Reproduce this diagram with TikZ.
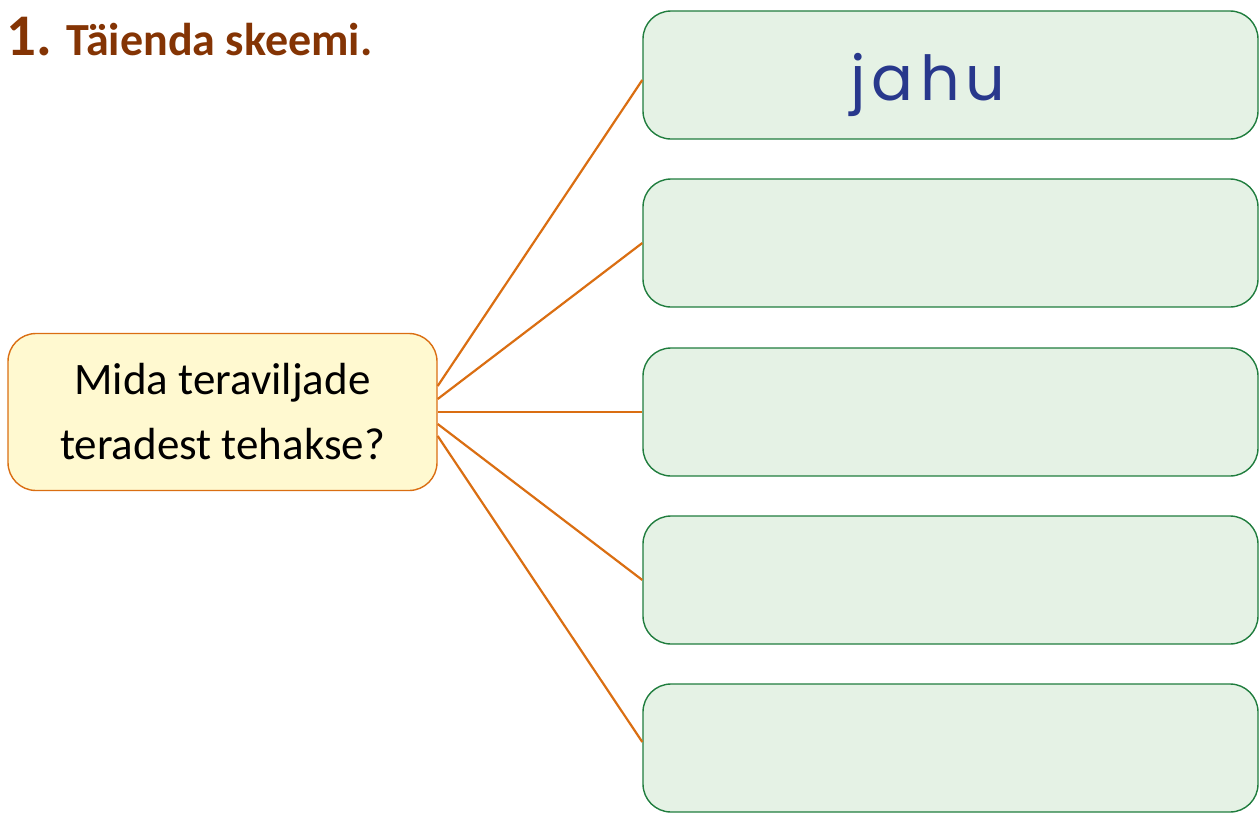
\documentclass[tikz,border=0pt]{standalone}
\usepackage{fontspec}
\setmainfont{Carlito}
\newfontfamily\handfont{Poppins}[LetterSpace=10]
\usetikzlibrary{calc}
\definecolor{titlebrown}{RGB}{132,52,4}
\definecolor{lineorange}{RGB}{218,110,18}
\definecolor{qfill}{RGB}{255,249,208}
\definecolor{gfill}{RGB}{229,242,229}
\definecolor{gborder}{RGB}{32,125,62}
\definecolor{handblue}{RGB}{40,56,140}
\tikzset{
  answerbox/.style={draw=gborder, fill=gfill, line width=1.4pt, rounded corners=28pt,
    minimum width=615pt, minimum height=128pt, inner sep=0pt},
  questionbox/.style={draw=lineorange, fill=qfill, line width=1.4pt, rounded corners=28pt,
    minimum width=429pt, minimum height=157pt, align=center, inner sep=0pt,
    font=\fontsize{45}{65}\selectfont},
  link/.style={draw=lineorange, line width=2.2pt},
}
\begin{document}
\begin{tikzpicture}[x=1pt,y=-1pt]
\useasboundingbox (0,0) rectangle (1259,812);
\clip (0,0) rectangle (1259,812);
\node[anchor=base west, inner sep=0pt, text=titlebrown, font=\bfseries] (title) at (6,55)
  {{\fontsize{59}{59}\selectfont 1.}\hspace{15pt}{\fontsize{46}{46}\selectfont Täienda skeemi.}};
\node[questionbox] (q) at (222.5,412) {Mida teraviljade\\teradest tehakse?};
\node[answerbox] (g1) at (950.5,75) {};
\node[answerbox] (g2) at (950.5,243) {};
\node[answerbox] (g3) at (950.5,412) {};
\node[answerbox] (g4) at (950.5,580) {};
\node[answerbox] (g5) at (950.5,748) {};
\node[text=handblue, font=\handfont\fontsize{62}{62}\selectfont, anchor=base, inner sep=0pt] (jahu) at (928,100) {jahu};
\draw[link] ([yshift=26pt]q.east) -- ([yshift=-5pt]g1.west);
\draw[link] ([yshift=13pt]q.east) -- (g2.west);
\draw[link] (q.east) -- (g3.west);
\draw[link] ([yshift=-12pt]q.east) -- (g4.west);
\draw[link] ([yshift=-24pt]q.east) -- ([yshift=6pt]g5.west);
\end{tikzpicture}
\end{document}
